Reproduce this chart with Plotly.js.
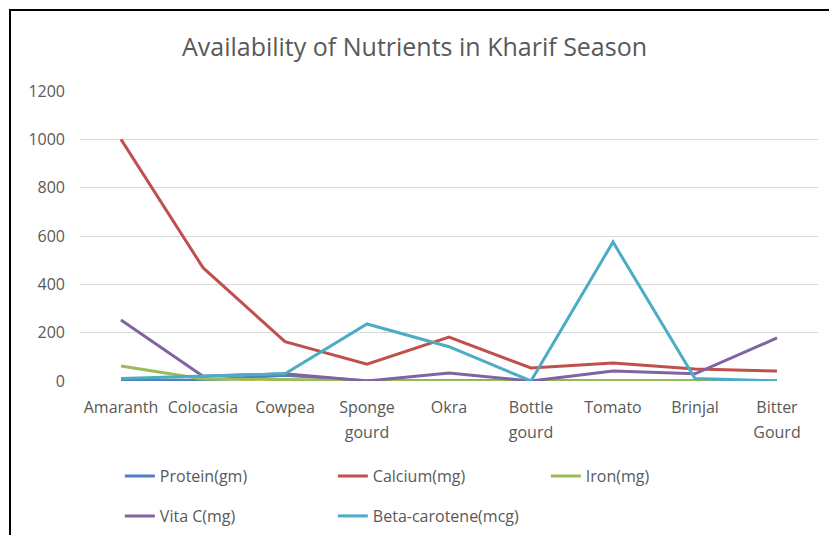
<!DOCTYPE html>
<html>
<head>
<meta charset="utf-8">
<script src="https://cdn.plot.ly/plotly-3.0.1.min.js"></script>
<style>
  html, body { margin: 0; padding: 0; background: #ffffff; }
  #wrap { position: relative; width: 829px; height: 535px; overflow: hidden; }
  #chart { position: absolute; left: 0; top: 0; width: 829px; height: 535px; }
  #frame { position: absolute; left: 9px; top: 9px; width: 830px; height: 540px;
           border-left: 2px solid #000; border-top: 2px solid #000; pointer-events: none; }
</style>
</head>
<body>
<div id="wrap">
  <div id="chart"></div>
  <div id="frame"></div>
</div>
<script>
const categories = ["Amaranth", "Colocasia", "Cowpea", "Sponge<br>gourd", "Okra",
                    "Bottle<br>gourd", "Tomato", "Brinjal", "Bitter<br>Gourd"];
const protein      = [4, 3, 24, 1, 2, 0, 1, 1, 2];
const calcium      = [1000, 469, 163, 70, 182, 54, 74, 50, 41];
const iron         = [62, 8, 6, 1, 1, 0, 1, 1, 2];
const vitaC        = [252, 20, 30, 0, 33, 0, 41, 30, 178];
const betaCarotene = [10, 20, 30, 236, 142, 0, 575, 10, 0];
const yTicks = [0, 200, 400, 600, 800, 1000, 1200];

const FONT = "Open Sans, Lato, sans-serif";
const GREY = "#595959";
const idx = categories.map((_, i) => i);
const firstLine = categories.map(c => c.split("<br>")[0]);
const secondLine = categories.map(c => c.split("<br>")[1] || "");

function series(name, y, color, legend) {
  return { type: "scatter", mode: "lines", name: name, x: idx, y: y,
           line: { color: color, width: 3 }, legend: legend, hoverinfo: "x+y+name" };
}

const data = [
  series("Protein(gm)", protein, "#4F81BD", "legend"),
  series("Calcium(mg)", calcium, "#C0504D", "legend"),
  series("Iron(mg)", iron, "#9BBB59", "legend"),
  series("Vita C(mg)", vitaC, "#8064A2", "legend2"),
  series("Beta-carotene(mcg)", betaCarotene, "#4BACC6", "legend2"),
  // carrier for the second line of the category labels (no marks)
  { type: "scatter", mode: "lines", x: [], y: [], xaxis: "x2", yaxis: "y",
    showlegend: false, hoverinfo: "skip" }
];

const legendCommon = {
  orientation: "h", xref: "paper", yref: "paper", xanchor: "left", yanchor: "middle",
  x: 0.054, entrywidth: 168, entrywidthmode: "pixels",
  font: { family: FONT, size: 16, color: GREY }, bgcolor: "rgba(0,0,0,0)", tracegroupgap: 0
};

const xCommon = {
  range: [-0.5, 8.5], tickmode: "array", tickvals: idx,
  showgrid: false, zeroline: false, showline: false, ticks: "",
  tickfont: { family: FONT, size: 16, color: GREY }, fixedrange: true
};

const layout = {
  width: 829, height: 535,
  margin: { l: 80, r: 11, t: 91, b: 154, autoexpand: false },
  paper_bgcolor: "#ffffff", plot_bgcolor: "#ffffff",
  title: { text: "Availability of Nutrients in Kharif Season",
           font: { family: FONT, size: 25, color: GREY },
           x: 0.5, xanchor: "center", y: 1 - 47 / 535, yanchor: "middle", yref: "container" },
  xaxis: Object.assign({}, xCommon, { ticktext: firstLine, ticklabelstandoff: 15 }),
  xaxis2: Object.assign({}, xCommon, { ticktext: secondLine, ticklabelstandoff: 40,
           overlaying: "x", anchor: "y", side: "bottom", matches: "x" }),
  yaxis: {
    range: [0, 1200], tickmode: "array", tickvals: yTicks, ticktext: yTicks.map(String),
    showgrid: true, gridcolor: "#d9d9d9", gridwidth: 1, zeroline: false, showline: false,
    ticks: "", ticklabelstandoff: 14,
    tickfont: { family: FONT, size: 16, color: GREY }, fixedrange: true
  },
  legend: Object.assign({}, legendCommon, { y: -(476 - 381) / 290 }),
  legend2: Object.assign({}, legendCommon, { y: -(516 - 381) / 290 }),
  showlegend: true
};

Plotly.newPlot("chart", data, layout, { displayModeBar: false, staticPlot: true });
</script>
</body>
</html>
